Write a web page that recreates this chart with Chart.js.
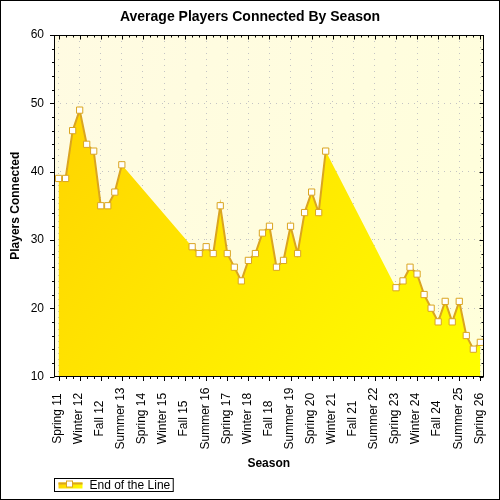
<!DOCTYPE html>
<html>
<head>
<meta charset="utf-8">
<script src="https://cdn.jsdelivr.net/npm/chart.js@4.4.0/dist/chart.umd.min.js"></script>
<style>
    html, body { margin: 0; padding: 0; background: #fff; }
    .wrap { width: 500px; height: 500px; position: relative; }
</style>
</head>
<body>
<div class="wrap"><canvas id="main_chart"></canvas></div>
<script>
// one entry per season, Spring 11 .. Spring 26
const seasons = [
    "Spring 11", "Summer 11", "Fall 11", "Winter 12", "Spring 12", "Summer 12", "Fall 12",
    "Winter 13", "Spring 13", "Summer 13", "Fall 13", "Winter 14", "Spring 14", "Summer 14", "Fall 14",
    "Winter 15", "Spring 15", "Summer 15", "Fall 15", "Winter 16", "Spring 16", "Summer 16", "Fall 16",
    "Winter 17", "Spring 17", "Summer 17", "Fall 17", "Winter 18", "Spring 18", "Summer 18", "Fall 18",
    "Winter 19", "Spring 19", "Summer 19", "Fall 19", "Winter 20", "Spring 20", "Summer 20", "Fall 20",
    "Winter 21", "Spring 21", "Summer 21", "Fall 21", "Winter 22", "Spring 22", "Summer 22", "Fall 22",
    "Winter 23", "Spring 23", "Summer 23", "Fall 23", "Winter 24", "Spring 24", "Summer 24", "Fall 24",
    "Winter 25", "Spring 25", "Summer 25", "Fall 25", "Winter 26", "Spring 26"
];
// average players, null = no data that season
const players = [
    39, 39, 46, 49, 44, 43, 35, 35, 37, 41,
    null, null, null, null, null, null, null, null, null,
    29, 28, 29, 28, 35, 28, 26, 24, 27, 28, 31, 32, 26, 27, 32, 28, 34, 37, 34, 43,
    null, null, null, null, null, null, null, null, null,
    23, 24, 26, 25, 22, 20, 18, 21, 18, 21, 16, 14, 15
];
// labelled seasons on the x axis
const labelSeasons = [
    "Spring 11", "Winter 12", "Fall 12", "Summer 13", "Spring 14", "Winter 15", "Fall 15",
    "Summer 16", "Spring 17", "Winter 18", "Fall 18", "Summer 19", "Spring 20", "Winter 21",
    "Fall 21", "Summer 22", "Spring 23", "Winter 24", "Fall 24", "Summer 25", "Spring 26"
];
const yTicks = [10, 20, 30, 40, 50, 60];
const seriesName = "End of the Line";

const FONT = '"Liberation Sans", Arial, sans-serif';
Chart.defaults.font.family = FONT;
Chart.defaults.color = '#000';

function areaFill(ctx, x0, y0, x1, y1) {
    let g = ctx.createLinearGradient(x0, y0, x1, y1);
    g.addColorStop(0, '#FFD000');
    g.addColorStop(1, '#FFFF00');
    return g;
}

// background, frame, minor ticks, rotated labels, legend
const decor = {
    id: 'decor',
    beforeDraw(chart) {
        const {ctx, chartArea: a} = chart;
        ctx.save();
        ctx.fillStyle = '#fff';
        ctx.fillRect(0, 0, chart.width, chart.height);
        let g = ctx.createLinearGradient(a.left, a.top, a.right, a.bottom);
        g.addColorStop(0, '#FFFBE2');
        g.addColorStop(1, '#FFFFDA');
        ctx.fillStyle = g;
        ctx.fillRect(a.left, a.top, a.right - a.left, a.bottom - a.top);
        ctx.restore();
    },
    afterDraw(chart) {
        const {ctx, chartArea: a, scales: {x, y}} = chart;
        const L = Math.round(a.left) + 0.5, R = Math.round(a.right) - 0.5;
        const T = Math.round(a.top) + 0.5, B = Math.round(a.bottom) - 0.5;
        ctx.save();
        ctx.strokeStyle = '#000';
        ctx.lineWidth = 1;
        ctx.strokeRect(L, T, R - L, B - T);

        ctx.beginPath();
        seasons.forEach((s, i) => {
            const px = Math.round(x.getPixelForValue(i)) + 0.5;
            const len = labelSeasons.includes(s) ? 4 : 2;
            ctx.moveTo(px, B); ctx.lineTo(px, B + len + 0.5);
            ctx.moveTo(px, T); ctx.lineTo(px, T + len);
        });
        for (let v = y.min; v <= y.max; v += 2) {
            const py = Math.round(y.getPixelForValue(v)) + 0.5;
            const len = yTicks.includes(v) ? 4 : 2;
            ctx.moveTo(L - len - 0.5, py); ctx.lineTo(L, py);
            ctx.moveTo(R, py); ctx.lineTo(R - len, py);
        }
        ctx.stroke();

        // x labels, rotated and centred in their band
        ctx.font = '12px ' + FONT;
        ctx.fillStyle = '#000';
        ctx.textAlign = 'center';
        ctx.textBaseline = 'middle';
        labelSeasons.forEach(s => {
            const px = x.getPixelForValue(seasons.indexOf(s)) - 1;
            ctx.save();
            ctx.translate(px, a.bottom + 42);
            ctx.rotate(-Math.PI / 2);
            ctx.fillText(s, 0, 0);
            ctx.restore();
        });

        // legend box
        const lx = L, ly = chart.height - 21.5;
        const tw = ctx.measureText(seriesName).width;
        ctx.strokeRect(lx, ly, 35 + tw + 3, 13);
        ctx.fillStyle = areaFill(ctx, lx + 4, ly, lx + 28, ly + 12);
        ctx.fillRect(lx + 4, ly + 4, 24, 6);
        ctx.strokeStyle = '#DAA520';
        ctx.lineWidth = 2;
        ctx.beginPath();
        ctx.moveTo(lx + 4, ly + 5); ctx.lineTo(lx + 28, ly + 5);
        ctx.stroke();
        ctx.lineWidth = 1;
        ctx.fillStyle = '#fff';
        ctx.fillRect(lx + 12, ly + 2.5, 6, 6);
        ctx.strokeRect(lx + 12, ly + 2.5, 6, 6);
        ctx.fillStyle = '#000';
        ctx.textAlign = 'left';
        ctx.fillText(seriesName, lx + 35, ly + 7);

        // outer border
        ctx.strokeStyle = '#000';
        ctx.strokeRect(0.5, 0.5, chart.width - 1, chart.height - 1);
        ctx.restore();
    }
};

const points = seasons.map((s, i) => ({x: i, y: players[i]}));

let chart1 = new Chart(document.getElementById('main_chart'), {
    type: 'line',
    data: {
        datasets: [{
            // outline: broken where seasons are missing
            label: seriesName,
            data: points,
            order: 0,
            spanGaps: false,
            fill: false,
            tension: 0,
            borderColor: '#DAA520',
            borderWidth: 2,
            pointStyle: 'rect',
            pointRadius: 4.4,
            pointBackgroundColor: '#fff',
            pointBorderColor: '#DAA520',
            pointBorderWidth: 1
        }, {
            // area: spans the missing seasons
            label: seriesName,
            data: points,
            order: 1,
            spanGaps: true,
            fill: 'start',
            tension: 0,
            borderWidth: 0,
            borderColor: 'rgba(0,0,0,0)',
            backgroundColor: (c) => {
                const a = c.chart.chartArea;
                if (!a) return '#FFE000';
                return areaFill(c.chart.ctx, a.left, a.top, a.right, a.bottom);
            },
            pointRadius: 0
        }]
    },
    options: {
        responsive: true,
        maintainAspectRatio: false,
        animation: false,
        layout: { padding: { left: 8, right: 8, top: 0, bottom: 29 } },
        plugins: {
            legend: { display: false },
            tooltip: { enabled: false },
            title: {
                display: true,
                text: 'Average Players Connected By Season',
                color: '#000',
                font: { size: 14, weight: 'bold' },
                padding: { top: 9, bottom: 9.2 }
            }
        },
        scales: {
            x: {
                type: 'linear',
                min: -0.65,
                max: 60.45,
                afterBuildTicks(s) {
                    s.ticks = labelSeasons.map(l => ({ value: seasons.indexOf(l) }));
                },
                afterFit(s) { s.height = 94.5; },
                ticks: {
                    color: 'rgba(0,0,0,0)',
                    autoSkip: false,
                    maxRotation: 90,
                    minRotation: 90,
                    font: { size: 12 },
                    callback: v => seasons[v]
                },
                grid: { color: '#c4c4c4', drawTicks: false },
                border: { display: false, dash: [1, 5] },
                title: {
                    display: true,
                    text: 'Season',
                    color: '#000',
                    font: { size: 12, weight: 'bold' },
                    padding: 0
                }
            },
            y: {
                min: 10,
                max: 60,
                afterBuildTicks(s) {
                    s.ticks = yTicks.map(v => ({ value: v }));
                },
                afterFit(s) { s.width = 46; },
                ticks: { color: '#000', font: { size: 12 }, padding: 10 },
                grid: { color: '#c4c4c4', drawTicks: false },
                border: { display: false, dash: [1, 5] },
                title: {
                    display: true,
                    text: 'Players Connected',
                    color: '#000',
                    font: { size: 12, weight: 'bold' },
                    padding: 0
                }
            },
            y2: {
                position: 'right',
                afterFit(s) { s.width = 8.5; },
                ticks: { display: false },
                grid: { display: false },
                border: { display: false }
            }
        }
    },
    plugins: [decor]
});
</script>
</body>
</html>
